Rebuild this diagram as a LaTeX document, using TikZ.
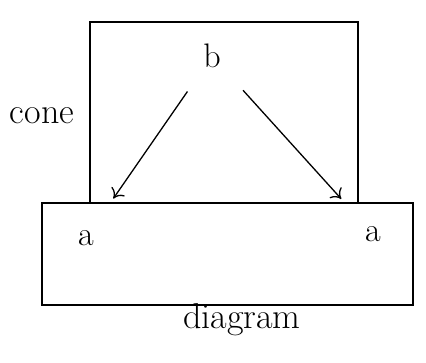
\documentclass[tikz,border=0pt]{standalone}
\usepackage{tikz}
\usetikzlibrary{arrows.meta,positioning}

\begin{document}
\begin{tikzpicture}[x=1pt, y=-1pt,
    frame/.style={draw=black, line width=1.3pt},
    letter/.style={font=\fontsize{34}{40}\selectfont, inner sep=2pt},
    label/.style={font=\fontsize{36}{42}\selectfont, inner sep=2pt},
    map/.style={-{To[length=9pt,width=16pt]}, line width=1.3pt}]

\useasboundingbox (0,0) rectangle (426,362);

% the two boxes
\draw[frame] (90,22) rectangle (358,203);
\draw[frame] (42,203) rectangle (413,305);

% objects
\node[letter] (b) at (212,56) {b};
\node[letter] (al) at (86,238) {a};
\node[letter] (ar) at (373,234) {a};

% box labels
\node[label] (cone) at (42,116) {cone};
\node[label] (diag) at (242,320) {diagram};

% arrows
\draw[map, shorten <=26pt, shorten >=36pt] (b) -- (al);
\draw[map, shorten <=30pt, shorten >=34pt] (b) -- (ar);
\end{tikzpicture}
\end{document}
